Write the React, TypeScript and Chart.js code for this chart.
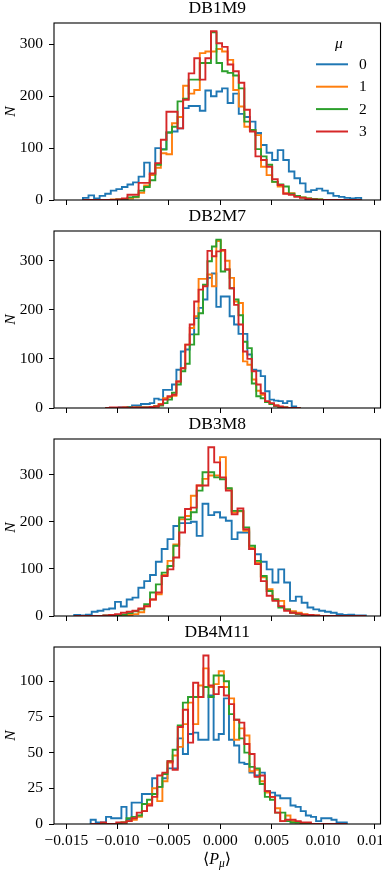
import React, { useEffect, useRef } from 'react';
import { Chart, registerables } from 'chart.js';

Chart.register(...registerables);

const FONT_FAMILY = '"Liberation Serif", "DejaVu Serif", serif';

// ---- axes ----
const X_MIN = -0.0162;
const X_MAX = 0.0156;
const X_TICKS = [-0.015, -0.01, -0.005, 0, 0.005, 0.01, 0.015];
const Y_TICKS_BIG = [0, 100, 200, 300];
const Y_TICKS_SMALL = [0, 25, 50, 75, 100];

// ---- series meta ----
const MU_LABELS = ['0', '1', '2', '3'];
const COLORS = ['#1f77b4', '#ff7f0e', '#2ca02c', '#d62728'];
const PANEL_NAMES = ['DB1M9', 'DB2M7', 'DB3M8', 'DB4M11'];
const Y_MAX = [341, 360.5, 375.5, 124];
const BIN_START = [-0.01338, -0.01119, -0.01423, -0.01263];
const BIN_WIDTH = [0.000542, 0.000432, 0.000568, 0.000499];

// ---- histogram counts (per bin) ----
const DB1M9_MU0 = [4, 9, 3, 8, 12, 18, 21, 25, 30, 34, 45, 72, 50, 100, 98, 130, 132, 138, 177, 181, 181, 172, 211, 200, 209, 215, 187, 205, 166, 160, 151, 129, 106, 91, 77, 96, 77, 55, 42, 32, 16, 19, 22, 18, 13, 8, 6, 4, 3, 4];
const DB1M9_MU1 = [0, 0, 0, 0, 0, 1, 1, 2, 3, 5, 14, 28, 48, 62, 90, 88, 148, 160, 220, 205, 212, 283, 286, 286, 291, 286, 270, 212, 180, 141, 135, 125, 64, 48, 35, 26, 13, 13, 8, 5, 3, 2, 1, 0, 0, 0, 0, 0, 0, 0];
const DB1M9_MU2 = [0, 0, 0, 0, 0, 0, 1, 2, 5, 6, 18, 25, 38, 68, 97, 130, 141, 190, 195, 232, 232, 264, 264, 323, 264, 248, 245, 240, 215, 151, 135, 98, 84, 68, 35, 30, 26, 12, 8, 5, 3, 2, 1, 0, 0, 0, 0, 0, 0, 0];
const DB1M9_MU3 = [0, 0, 0, 0, 0, 0, 1, 3, 10, 10, 33, 33, 51, 71, 116, 170, 170, 138, 193, 244, 273, 232, 273, 325, 302, 295, 261, 248, 226, 174, 132, 84, 77, 64, 40, 29, 12, 10, 6, 4, 2, 1, 0, 0, 0, 0, 0, 0, 0, 0];

const DB2M7_MU0 = [0, 0, 0, 1, 1, 2, 5, 5, 8, 8, 10, 19, 17, 37, 37, 48, 78, 115, 119, 150, 183, 204, 221, 265, 274, 206, 227, 227, 187, 170, 151, 151, 109, 78, 76, 65, 34, 17, 15, 14, 10, 14, 3, 0];
const DB2M7_MU1 = [0, 0, 0, 0, 1, 0, 1, 1, 1, 1, 2, 4, 8, 20, 22, 25, 54, 81, 129, 163, 187, 263, 263, 272, 248, 340, 320, 300, 265, 217, 214, 95, 88, 58, 35, 27, 12, 8, 5, 2, 1, 0, 0, 0];
const DB2M7_MU2 = [0, 0, 0, 0, 0, 1, 0, 1, 1, 1, 1, 3, 5, 10, 17, 31, 48, 75, 90, 129, 150, 193, 251, 299, 329, 343, 278, 282, 244, 221, 189, 135, 122, 50, 24, 20, 12, 8, 4, 2, 1, 0, 0, 0];
const DB2M7_MU3 = [0, 1, 1, 1, 1, 0, 1, 1, 1, 1, 2, 3, 7, 17, 24, 27, 54, 81, 129, 170, 217, 241, 248, 320, 309, 319, 322, 282, 244, 210, 170, 115, 100, 75, 48, 30, 14, 10, 5, 3, 1, 0, 0, 0];

const DB3M8_MU0 = [2, 1, 3, 9, 11, 14, 16, 30, 20, 35, 39, 60, 74, 87, 115, 142, 163, 191, 197, 197, 200, 170, 238, 214, 220, 209, 202, 163, 177, 177, 142, 131, 115, 99, 71, 99, 71, 32, 41, 28, 18, 14, 11, 9, 7, 4, 2, 3, 1, 1];
const DB3M8_MU1 = [0, 0, 0, 0, 0, 0, 1, 1, 1, 2, 4, 8, 20, 35, 46, 87, 117, 152, 205, 212, 255, 277, 291, 298, 298, 337, 270, 220, 222, 181, 145, 113, 82, 57, 35, 32, 14, 10, 7, 4, 2, 1, 0, 0, 0, 0, 0, 0, 0, 0];
const DB3M8_MU2 = [0, 0, 0, 0, 0, 1, 1, 2, 3, 6, 10, 14, 25, 50, 67, 92, 106, 149, 209, 205, 220, 266, 305, 305, 294, 290, 271, 223, 223, 188, 149, 117, 85, 53, 35, 18, 14, 7, 4, 2, 1, 0, 0, 0, 0, 0, 0, 0, 0, 0];
const DB3M8_MU3 = [0, 0, 0, 0, 0, 1, 2, 4, 7, 9, 11, 16, 21, 35, 50, 85, 99, 124, 177, 227, 230, 277, 277, 358, 326, 294, 266, 216, 228, 184, 142, 110, 74, 43, 32, 21, 11, 7, 5, 3, 2, 1, 0, 0, 0, 0, 0, 0, 0, 0];

const DB4M11_MU0 = [3, 1, 1, 5, 4, 4, 12, 3, 15, 15, 21, 21, 32, 26, 32, 39, 39, 60, 49, 63, 64, 59, 59, 90, 59, 63, 88, 59, 55, 43, 42, 36, 34, 36, 23, 22, 20, 18, 18, 13, 12, 9, 6, 5, 2, 4, 4, 3, 1, 1];
const DB4M11_MU1 = [0, 0, 0, 0, 0, 0, 1, 2, 3, 5, 9, 14, 25, 16, 30, 43, 48, 54, 70, 85, 70, 97, 109, 96, 98, 107, 96, 88, 59, 67, 62, 37, 38, 30, 22, 19, 11, 2, 6, 2, 1, 0, 0, 0, 0, 0, 0, 0, 0, 0];
const DB4M11_MU2 = [0, 0, 0, 0, 0, 0, 1, 4, 5, 6, 14, 17, 21, 26, 35, 44, 52, 69, 85, 89, 89, 89, 96, 89, 104, 104, 100, 77, 73, 60, 50, 40, 39, 28, 19, 17, 8, 8, 2, 1, 1, 0, 0, 0, 0, 0, 0, 0, 0, 0];
const DB4M11_MU3 = [0, 0, 1, 0, 0, 1, 1, 2, 4, 8, 9, 13, 19, 34, 36, 44, 38, 68, 80, 57, 99, 89, 118, 97, 91, 96, 90, 84, 73, 71, 56, 49, 33, 34, 23, 19, 8, 2, 3, 3, 2, 1, 1, 0, 0, 0, 0, 0, 0, 0];

const PANEL_COUNTS = [
  [DB1M9_MU0, DB1M9_MU1, DB1M9_MU2, DB1M9_MU3],
  [DB2M7_MU0, DB2M7_MU1, DB2M7_MU2, DB2M7_MU3],
  [DB3M8_MU0, DB3M8_MU1, DB3M8_MU2, DB3M8_MU3],
  [DB4M11_MU0, DB4M11_MU1, DB4M11_MU2, DB4M11_MU3],
];

// ---- layout ----
const W = 382;
const PANEL_TOP = [0, 208, 416, 624];
const PANEL_H = [208, 208, 208, 248];

function histSteps(start: number, width: number, counts: number[]) {
  const pts = [{ x: start, y: 0 }];
  counts.forEach((c, i) => pts.push({ x: start + i * width, y: c }));
  pts.push({ x: start + counts.length * width, y: 0 });
  return pts;
}

function fmtX(v: number) {
  if (Math.abs(v) < 1e-9) return '0.000';
  return (v < 0 ? '\u2212' : '') + Math.abs(v).toFixed(3);
}

const framePlugin = {
  id: 'frame',
  afterDatasetsDraw(chart: any) {
    const { ctx, chartArea: a } = chart;
    ctx.save();
    ctx.strokeStyle = '#000';
    ctx.lineWidth = 1.1;
    ctx.strokeRect(a.left, a.top, a.right - a.left, a.bottom - a.top);
    ctx.restore();
  },
};

const muLegendPlugin = {
  id: 'muLegend',
  afterDatasetsDraw(chart: any) {
    const { ctx } = chart;
    ctx.save();
    ctx.fillStyle = '#000';
    ctx.textBaseline = 'middle';
    ctx.textAlign = 'center';
    ctx.font = `italic 15.5px ${FONT_FAMILY}`;
    ctx.fillText('\u03bc', 339, 44);
    ctx.font = `15.5px ${FONT_FAMILY}`;
    ctx.textAlign = 'left';
    chart.data.datasets.forEach((ds: any, i: number) => {
      const y = 64.3 + i * 22.4;
      ctx.strokeStyle = ds.borderColor;
      ctx.lineWidth = 2;
      ctx.beginPath();
      ctx.moveTo(316, y);
      ctx.lineTo(348, y);
      ctx.stroke();
      ctx.fillStyle = '#000';
      ctx.fillText(ds.label, 359, y + 0.5);
    });
    ctx.restore();
  },
};

function Panel({ index }: { index: number }) {
  const ref = useRef<HTMLCanvasElement | null>(null);
  useEffect(() => {
    if (!ref.current) return;
    const isLast = index === 3;
    const yTicks = isLast ? Y_TICKS_SMALL : Y_TICKS_BIG;
    const tickFont = { family: FONT_FAMILY, size: 15.5 };
    const chart = new Chart(ref.current, {
      type: 'line',
      data: {
        datasets: PANEL_COUNTS[index].map((counts, j) => ({
          label: MU_LABELS[j],
          data: histSteps(BIN_START[index], BIN_WIDTH[index], counts),
          borderColor: COLORS[j],
          backgroundColor: COLORS[j],
          borderWidth: 1.9,
          pointRadius: 0,
          stepped: 'before',
          fill: false,
          tension: 0,
          order: 3 - j,
        })),
      },
      options: {
        animation: false,
        responsive: false,
        maintainAspectRatio: false,
        devicePixelRatio: 1,
        events: [],
        layout: { padding: { left: 0, right: 1.5, top: 0, bottom: 0 } },
        plugins: {
          legend: { display: false },
          tooltip: { enabled: false },
          title: {
            display: true,
            text: PANEL_NAMES[index],
            fullSize: false,
            color: '#000',
            font: { family: FONT_FAMILY, size: 17.5, weight: 'normal', lineHeight: 1 },
            padding: { top: 0, bottom: 5.5 },
          },
        },
        scales: {
          x: {
            type: 'linear',
            min: X_MIN,
            max: X_MAX,
            bounds: 'data',
            afterBuildTicks: (s: any) => { s.ticks = X_TICKS.map((v) => ({ value: v })); },
            afterFit: (s: any) => {
              s.height = isLast ? 48 : 8;
              s.paddingLeft = 0;
              s.paddingRight = 0;
              s.paddingTop = 0;
              s.paddingBottom = 0;
            },
            grid: { drawOnChartArea: false, drawTicks: true, tickLength: 5, color: '#000', lineWidth: 1 },
            border: { display: false },
            ticks: {
              display: isLast,
              color: '#000',
              font: tickFont,
              padding: 3,
              maxRotation: 0,
              autoSkip: false,
              callback: (v: any) => fmtX(Number(v)),
            },
          },
          y: {
            type: 'linear',
            min: 0,
            max: Y_MAX[index],
            bounds: 'data',
            afterBuildTicks: (s: any) => { s.ticks = yTicks.map((v) => ({ value: v })); },
            afterFit: (s: any) => {
              s.width = 54;
              s.paddingLeft = 0;
              s.paddingRight = 0;
              s.paddingTop = 0;
              s.paddingBottom = 0;
            },
            grid: { drawOnChartArea: false, drawTicks: true, tickLength: 5, color: '#000', lineWidth: 1 },
            border: { display: false },
            ticks: {
              color: '#000',
              font: tickFont,
              padding: 6,
              autoSkip: false,
              callback: (v: any) => String(v),
            },
            title: {
              display: true,
              text: 'N',
              color: '#000',
              font: { family: FONT_FAMILY, size: 15.5, style: 'italic', lineHeight: 1.2 },
              padding: { top: 2, bottom: 0 },
            },
          },
        },
      },
      plugins: index === 0 ? [muLegendPlugin, framePlugin] : [framePlugin],
    } as any);
    return () => chart.destroy();
  }, [index]);

  return (
    <div style={{ position: 'absolute', left: 0, top: PANEL_TOP[index], width: W, height: PANEL_H[index] }}>
      <canvas ref={ref} width={W} height={PANEL_H[index]} style={{ display: 'block', width: W, height: PANEL_H[index] }} />
    </div>
  );
}

export default function App() {
  return (
    <div style={{ position: 'absolute', left: 0, top: 0, width: W, height: 872, background: '#fff', overflow: 'hidden' }}>
      {PANEL_NAMES.map((_, i) => (
        <Panel key={i} index={i} />
      ))}
      <div
        style={{
          position: 'absolute',
          left: 167,
          top: 849,
          width: 100,
          textAlign: 'center',
          fontFamily: FONT_FAMILY,
          fontSize: 16,
          lineHeight: '20px',
          color: '#000',
          whiteSpace: 'nowrap',
        }}
      >
        {'\u27e8'}
        <i>P</i>
        <span style={{ fontSize: 11.5, fontStyle: 'italic', position: 'relative', top: 3 }}>{'\u03bc'}</span>
        {'\u27e9'}
      </div>
    </div>
  );
}
